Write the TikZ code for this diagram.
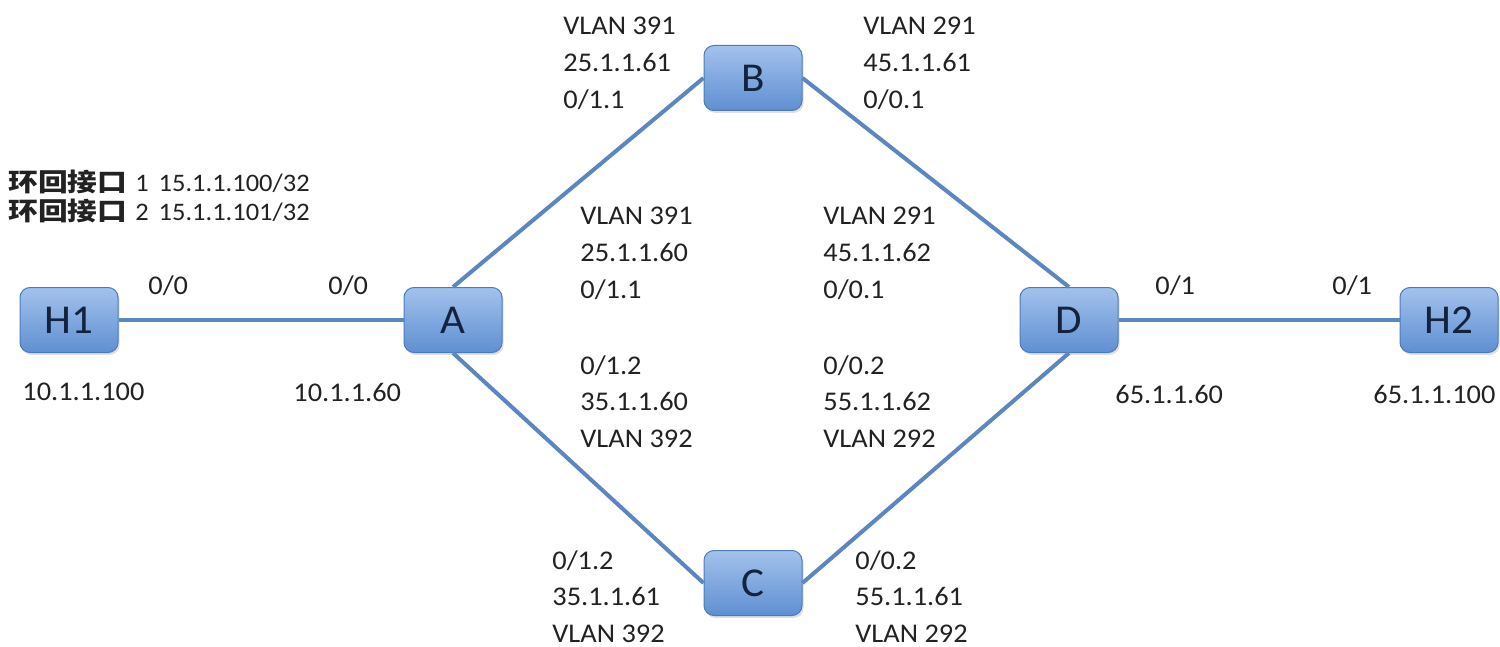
\documentclass[tikz,border=0pt]{standalone}
\usepackage{fontspec}
\setmainfont{Carlito}[FakeStretch=1.05]
\newfontfamily\cjk{Noto Sans CJK SC}[FakeStretch=1.18]
\usetikzlibrary{shadows}
\definecolor{linkblue}{HTML}{5B86C0}
\definecolor{boxtop}{HTML}{A3C2EC}
\definecolor{boxbot}{HTML}{5F8FD2}
\definecolor{boxedge}{HTML}{4C7BBB}
\definecolor{txt}{HTML}{222222}
\definecolor{navy}{HTML}{13233F}
\begin{document}
\begin{tikzpicture}[x=0.5pt,y=-0.5pt,
  dev/.style={rectangle, rounded corners=5pt, minimum width=49pt, minimum height=32.5pt,
    inner sep=0pt, draw=boxedge, line width=0.5pt, top color=boxtop, bottom color=boxbot,
    drop shadow={opacity=0.25, shadow xshift=0.8pt, shadow yshift=-1.2pt},
    text=navy, font=\fontsize{20.5}{24}\selectfont},
  link/.style={draw=linkblue, line width=2pt},
  lbl/.style={anchor=north west, inner sep=0pt, align=left, text=txt,
    font=\fontsize{13.5}{18.4}\selectfont},
  loop/.style={anchor=west, inner sep=0pt, text=txt, font=\fontsize{12.6}{15}\selectfont},
]
\useasboundingbox (0,0) rectangle (1500,647);

% devices
\node[dev] (H1) at (69,320) {H1};
\node[dev] (A)  at (453,320) {A};
\node[dev] (B)  at (753,78)  {B};
\node[dev] (C)  at (753,583) {C};
\node[dev] (D)  at (1069,320) {D};
\node[dev] (H2) at (1449,320) {H2};

% links
\draw[link] (H1.east) -- (A.west);
\draw[link] (A.north) -- (B.west);
\draw[link] (A.south) -- (C.west);
\draw[link] (B.east) -- (D.north);
\draw[link] (C.east) -- (D.south);
\draw[link] (D.east) -- (H2.west);

% loopback text
\node[loop] (lb1) at (8,182) {{\cjk\bfseries 环回接口}\hspace{4pt}1\hspace{5pt}15.1.1.100/32};
\node[loop] (lb2) at (8,211) {{\cjk\bfseries 环回接口}\hspace{4pt}2\hspace{5pt}15.1.1.101/32};

% interface labels
\node[lbl] (h1p) at (148,275) {0/0};
\node[lbl] (ap)  at (328,275) {0/0};
\node[lbl] (h1ip) at (22,383) {10.1.1.100};
\node[lbl] (aip)  at (293,383) {10.1.1.60};
\node[lbl] (dp)  at (1155,275) {0/1};
\node[lbl] (h2p) at (1332,275) {0/1};
\node[lbl] (dip)  at (1115,385) {65.1.1.60};
\node[lbl] (h2ip) at (1373,385) {65.1.1.100};

\node[lbl] (bl) at (563,17) {VLAN 391\\25.1.1.61\\0/1.1};
\node[lbl] (br) at (863,17) {VLAN 291\\45.1.1.61\\0/0.1};
\node[lbl] (mlt) at (580,207) {VLAN 391\\25.1.1.60\\0/1.1};
\node[lbl] (mrt) at (823,207) {VLAN 291\\45.1.1.62\\0/0.1};
\node[lbl] (mlb) at (580,355) {0/1.2\\35.1.1.60\\VLAN 392};
\node[lbl] (mrb) at (823,355) {0/0.2\\55.1.1.62\\VLAN 292};
\node[lbl] (cl) at (552,550) {0/1.2\\35.1.1.61\\VLAN 392};
\node[lbl] (cr) at (855,550) {0/0.2\\55.1.1.61\\VLAN 292};
\end{tikzpicture}
\end{document}
